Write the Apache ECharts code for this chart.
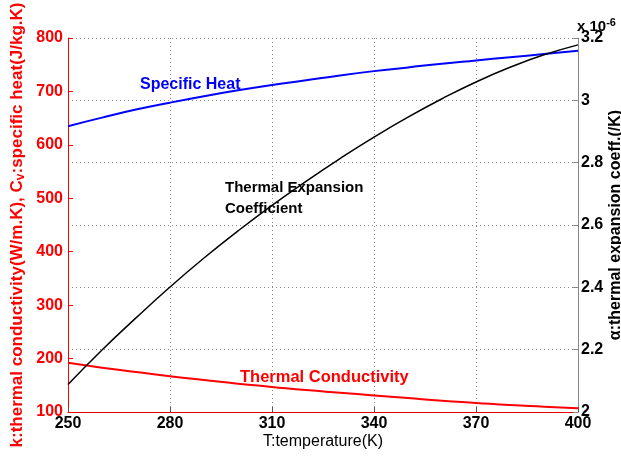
<!DOCTYPE html>
<html>
<head>
<meta charset="utf-8">
<script src="https://cdn.jsdelivr.net/npm/echarts@6/dist/echarts.min.js"></script>
<style>
    html, body { margin: 0; padding: 0; background: #fff; }
    #chart { width: 621px; height: 457px; }
</style>
</head>
<body>
<div id="chart"></div>
<script>
    // temperature (K)
    var temps = [250, 260, 270, 280, 290, 300, 310, 320, 330, 340, 350, 360, 370, 380, 390, 400]
    // specific heat Cv (J/kg.K)
    var specHeat = [635, 651, 666, 679, 691, 702, 712, 721, 730, 738, 745, 752, 758, 764, 770, 776]
    // thermal conductivity k (W/m.K)
    var thermCond = [192, 183, 175, 167, 160, 153, 147, 141, 136, 131, 126, 121, 117, 113, 110, 107]
    // thermal expansion coeff alpha (x 1e-6 /K)
    var expCoeff = [2.088, 2.199, 2.302, 2.401, 2.494, 2.581, 2.663, 2.740, 2.813, 2.882, 2.946, 3.005, 3.059, 3.106, 3.146, 3.178]

    function pairs(vals) {
        return temps.map(function (t, i) { return [t, vals[i]] })
    }

    var font = 'Liberation Sans, Arial, sans-serif'
    var myChart = echarts.init(document.getElementById('chart'))
    myChart.setOption({
        animation: false,
        textStyle: { fontFamily: font },
        grid: { left: 68, right: 43, top: 38, bottom: 45, outerBoundsMode: 'none' },
        xAxis: {
            type: 'value',
            min: 250, max: 400, interval: 30,
            name: 'T:temperature(K)',
            nameLocation: 'middle',
            nameGap: 22,
            nameMoveOverlap: false,
            nameTextStyle: { color: '#000', fontSize: 16, fontFamily: font },
            axisLine: { lineStyle: { color: '#e00000', width: 1 } },
            axisTick: { inside: true, length: 5, lineStyle: { color: '#555' } },
            axisLabel: { color: '#000', fontSize: 16, fontWeight: 'bold', margin: 4, fontFamily: font },
            splitLine: { show: true, lineStyle: { color: '#888', type: [1, 3], width: 1 } }
        },
        yAxis: [
            {
                type: 'value',
                min: 100, max: 800, interval: 100,
                position: 'left',
                name: 'k:thermal conductivity(W/m.K), C{sub|v}:specific heat(J/kg.K)',
                nameLocation: 'middle',
                nameGap: 41,
                nameMoveOverlap: false,
                nameTextStyle: {
                    color: '#ff0000', fontSize: 17, fontWeight: 'bold', fontFamily: font,
                    rich: {
                        sub: { fontSize: 12, fontWeight: 'bold', color: '#ff0000', verticalAlign: 'bottom', padding: [8, 0, 0, 0], fontFamily: font }
                    }
                },
                axisLine: { show: true, lineStyle: { color: '#ff0000' } },
                axisTick: { show: true, inside: true, length: 5, lineStyle: { color: '#ff0000' } },
                axisLabel: { color: '#ff0000', fontSize: 16, fontWeight: 'bold', margin: 5, fontFamily: font },
                splitLine: { show: false }
            },
            {
                type: 'value',
                min: 2, max: 3.2, interval: 0.2,
                position: 'right',
                name: 'α:thermal expansion coeff.(/K)',
                nameLocation: 'middle',
                nameGap: 30,
                nameRotate: 90,
                nameMoveOverlap: false,
                nameTextStyle: { color: '#000', fontSize: 16, fontWeight: 'bold', fontFamily: font },
                axisLine: { show: true, lineStyle: { color: '#888' } },
                axisTick: { show: true, inside: true, length: 5, lineStyle: { color: '#888' } },
                axisLabel: {
                    color: '#000', fontSize: 16, fontWeight: 'bold', margin: 3, fontFamily: font,
                    formatter: function (v) { return String(Math.round(v * 10) / 10) }
                },
                splitLine: { show: true, lineStyle: { color: '#888', type: [1, 3], width: 1 } }
            }
        ],
        graphic: [
            { type: 'text', left: 140, top: 77, style: { text: 'Specific Heat', fill: '#0000ff', font: 'bold 16px ' + font } },
            { type: 'text', left: 225, top: 177, style: { text: 'Thermal Expansion\nCoefficient', fill: '#000', font: 'bold 15px ' + font, lineHeight: 21 } },
            { type: 'text', left: 240, top: 369, style: { text: 'Thermal Conductivity', fill: '#ff0000', font: 'bold 16.5px ' + font } },
            {
                type: 'text', left: 577, top: 17,
                style: {
                    text: 'x 10{sup|-6}', fill: '#000', font: 'bold 15px ' + font,
                    rich: { sup: { fontSize: 11, fontWeight: 'bold', fill: '#000', verticalAlign: 'top', padding: [0, 0, 8, 0], fontFamily: font } }
                }
            }
        ],
        series: [
            {
                name: 'Specific Heat',
                type: 'line',
                yAxisIndex: 0,
                data: pairs(specHeat),
                smooth: true,
                showSymbol: false,
                lineStyle: { color: '#0000ff', width: 2 }
            },
            {
                name: 'Thermal Conductivity',
                type: 'line',
                yAxisIndex: 0,
                data: pairs(thermCond),
                smooth: true,
                showSymbol: false,
                lineStyle: { color: '#ff0000', width: 2 }
            },
            {
                name: 'Thermal Expansion Coefficient',
                type: 'line',
                yAxisIndex: 1,
                data: pairs(expCoeff),
                smooth: true,
                showSymbol: false,
                lineStyle: { color: '#000', width: 1.5 }
            }
        ]
    })
</script>
</body>
</html>
